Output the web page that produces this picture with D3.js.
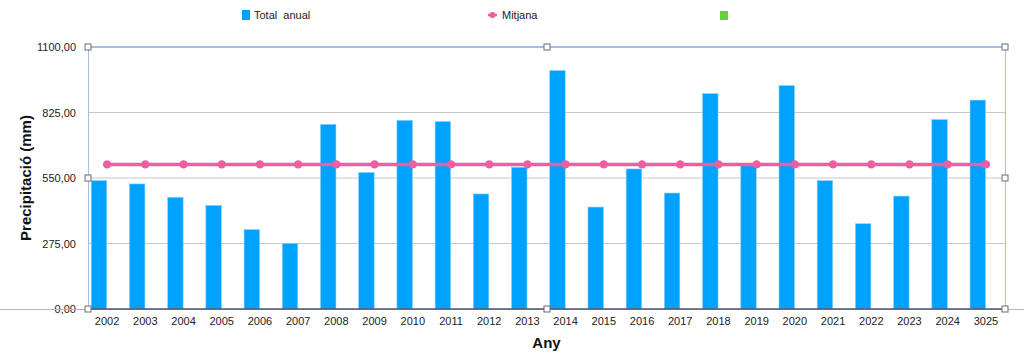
<!DOCTYPE html>
<html>
<head>
<meta charset="utf-8">
<script src="https://cdn.jsdelivr.net/npm/d3@7"></script>
<style>
  html, body { margin: 0; padding: 0; background: #fff; }
  svg { display: block; font-family: "Liberation Sans", Arial, sans-serif; }
</style>
</head>
<body>
<svg id="chart" width="1024" height="362"></svg>
<script>
// Precipitació anual — barres + línia de la mitjana, amb el marc de selecció del full de càlcul.
const anys = ["2002","2003","2004","2005","2006","2007","2008","2009","2010","2011","2012","2013",
              "2014","2015","2016","2017","2018","2019","2020","2021","2022","2023","2024","3025"];
const totalAnual = [539, 525, 469, 435, 333, 275, 775, 573, 792, 787, 483, 595,
                    1001, 428, 588, 487, 904, 603, 938, 539, 358, 474, 795, 877];
const mitjana = [607.2, 607.2, 607.2, 607.2, 607.2, 607.2, 607.2, 607.2, 607.2, 607.2, 607.2, 607.2,
                 607.2, 607.2, 607.2, 607.2, 607.2, 607.2, 607.2, 607.2, 607.2, 607.2, 607.2, 607.2];
const yTicks = [0, 275, 550, 825, 1100];
const series = ["Total  anual", "Mitjana", ""];

const BLUE = "#00a2ff", PINK = "#ec5fa3", GREEN = "#5fd43a", FRAME = "#a9bde9";

const svg = d3.select("#chart");
const m = { left: 88, right: 1005, top: 47, bottom: 309 };

const x = d3.scaleBand().domain(anys).range([m.left, m.right]).padding(0);
const xSub = d3.scaleBand().domain(["total", "buit"]).range([0, x.bandwidth()])
  .paddingInner(0.05).paddingOuter(0.2);
const y = d3.scaleLinear().domain([0, 1100]).range([m.bottom, m.top]);
const fmt = v => d3.format(".2f")(v).replace(".", ",");

// grid
svg.append("g").selectAll("line").data(yTicks.filter(t => t > 0 && t < 1100)).join("line")
  .attr("x1", m.left).attr("x2", m.right)
  .attr("y1", d => y(d)).attr("y2", d => y(d))
  .attr("stroke", "#c8c8c8").attr("stroke-width", 1);

// y axis labels
const yAxis = svg.append("g").attr("transform", `translate(${m.left},0)`)
  .call(d3.axisLeft(y).tickValues(yTicks).tickFormat(fmt).tickSize(0).tickPadding(12));
yAxis.select(".domain").remove();
yAxis.selectAll("text").attr("font-size", 11).attr("fill", "#222")
  .attr("font-family", "'Liberation Sans', Arial, sans-serif");

// grey baseline spilling past the plot
svg.append("line").attr("x1", 0).attr("x2", 1024).attr("y1", y(0) + 0.5).attr("y2", y(0) + 0.5)
  .attr("stroke", "#b5b5b5").attr("stroke-width", 1);

// bars
svg.append("g").selectAll("rect").data(totalAnual).join("rect")
  .attr("x", (d, i) => x(anys[i]) + xSub("total"))
  .attr("width", xSub.bandwidth())
  .attr("y", d => y(d))
  .attr("height", d => y(0) - y(d))
  .attr("fill", BLUE)
  .attr("stroke", "#7fd0ff").attr("stroke-width", 0.6);

// plot frame (selection look)
svg.append("line").attr("x1", m.left).attr("x2", m.right).attr("y1", m.top).attr("y2", m.top)
  .attr("stroke", FRAME).attr("stroke-width", 2);
svg.append("line").attr("x1", m.left + 0.5).attr("x2", m.left + 0.5).attr("y1", m.top).attr("y2", m.bottom)
  .attr("stroke", FRAME).attr("stroke-width", 1);
svg.append("line").attr("x1", m.right + 0.5).attr("x2", m.right + 0.5).attr("y1", m.top).attr("y2", m.bottom)
  .attr("stroke", FRAME).attr("stroke-width", 1);
svg.append("line").attr("x1", m.left).attr("x2", m.right).attr("y1", y(0)).attr("y2", y(0))
  .attr("stroke", "#4e5670").attr("stroke-width", 1.5);

// x axis
const xAxis = svg.append("g").attr("transform", `translate(0,${m.bottom})`)
  .call(d3.axisBottom(x).tickSize(0).tickPadding(8));
xAxis.select(".domain").remove();
xAxis.selectAll("text").attr("font-size", 11).attr("fill", "#222")
  .attr("font-family", "'Liberation Sans', Arial, sans-serif");

// mean line
const cx = i => x(anys[i]) + x.bandwidth() / 2;
svg.append("path").datum(mitjana)
  .attr("d", d3.line().x((d, i) => cx(i)).y(d => y(d)))
  .attr("fill", "none").attr("stroke", PINK).attr("stroke-width", 3.5);
svg.append("g").selectAll("circle").data(mitjana).join("circle")
  .attr("cx", (d, i) => cx(i)).attr("cy", d => y(d)).attr("r", 4.2)
  .attr("fill", PINK);

// handles
const midX = (m.left + m.right) / 2, midY = (m.top + m.bottom) / 2;
const handles = [[m.left, m.top], [midX, m.top], [m.right, m.top], [m.left, midY], [m.right, midY],
                 [m.left, m.bottom], [midX, m.bottom], [m.right, m.bottom]];
svg.append("g").selectAll("rect").data(handles).join("rect")
  .attr("x", d => Math.round(d[0]) - 3).attr("y", d => Math.round(d[1]) - 3)
  .attr("width", 6).attr("height", 6)
  .attr("fill", "#fff").attr("stroke", "#6b6b6b").attr("stroke-width", 1);

// titles
svg.append("text").text("Any").attr("x", midX).attr("y", 348)
  .attr("text-anchor", "middle").attr("font-size", 15).attr("font-weight", "bold").attr("fill", "#111");
svg.append("text").text("Precipitació (mm)")
  .attr("transform", `translate(31,${midY}) rotate(-90)`)
  .attr("text-anchor", "middle").attr("font-size", 15).attr("font-weight", "bold").attr("fill", "#111");

// legend
const leg = svg.append("g").attr("font-size", 11).attr("fill", "#222");
leg.append("rect").attr("x", 242).attr("y", 10).attr("width", 8).attr("height", 10).attr("fill", BLUE);
leg.append("text").text(series[0]).attr("x", 254).attr("y", 19).style("white-space", "pre").attr("xml:space", "preserve");
leg.append("line").attr("x1", 488).attr("x2", 497).attr("y1", 15).attr("y2", 15)
  .attr("stroke", PINK).attr("stroke-width", 2.5);
leg.append("circle").attr("cx", 492.5).attr("cy", 15).attr("r", 3).attr("fill", PINK);
leg.append("text").text(series[1]).attr("x", 502).attr("y", 19);
leg.append("rect").attr("x", 720).attr("y", 11).attr("width", 8).attr("height", 9).attr("fill", GREEN);
</script>
</body>
</html>
